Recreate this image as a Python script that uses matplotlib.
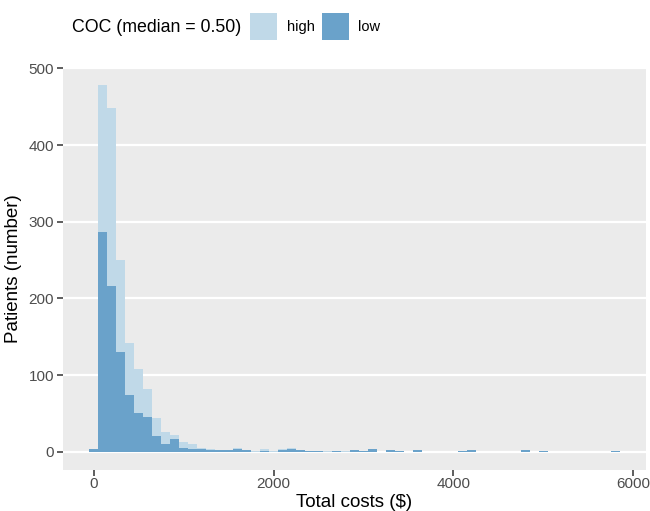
import matplotlib
matplotlib.use("Agg")
import matplotlib.pyplot as plt
from matplotlib.patches import Rectangle
import numpy as np

plt.rcParams['font.family'] = ['Liberation Sans', 'DejaVu Sans']

bin_centers = list(range(0, 5900, 100))
high_counts = [3, 478, 448, 250, 142, 108, 82, 44, 26, 22, 13, 10, 5, 3, 2, 2, 5, 2, 1, 3,
               1, 3, 5, 2, 1, 1, 1, 1, 1, 1, 1, 1, 0, 0, 0, 0, 0, 0, 0, 0,
               0, 0, 0, 0, 0, 0, 0, 0, 0, 0, 0, 0, 0, 0, 0, 0, 0, 0, 0]
low_counts = [4, 287, 216, 130, 74, 50, 45, 21, 10, 16, 5, 3, 3, 2, 2, 2, 3, 2, 0, 1,
              0, 2, 3, 2, 1, 1, 0, 1, 0, 2, 1, 3, 0, 2, 1, 0, 2, 0, 0, 0,
              0, 1, 2, 0, 0, 0, 0, 0, 2, 0, 1, 0, 0, 0, 0, 0, 0, 0, 1]
group_labels = ["high", "low"]
legend_title = "COC (median = 0.50)"
x_ticks = [0, 2000, 4000, 6000]
y_ticks = [0, 100, 200, 300, 400, 500]

col_high = '#c0d9e8'
col_low = '#6aa2ca'

W, H = 650, 511
fig = plt.figure(figsize=(W / 100, H / 100), dpi=100)
ax = fig.add_axes([63 / W, 1 - 470 / H, (646 - 63) / W, (470 - 67) / H])
ax.set_facecolor('#ebebeb')

binw = 100
ax.bar(bin_centers, high_counts, width=binw, color=col_high, linewidth=0, zorder=2)
ax.bar(bin_centers, low_counts, width=binw, color=col_low, linewidth=0, zorder=3)

xmin, xmax = bin_centers[0] - binw / 2, bin_centers[-1] + binw / 2
xr = xmax - xmin
ax.set_xlim(xmin - 0.05 * xr, xmax + 0.05 * xr)
ymax = max(max(high_counts), max(low_counts))
ax.set_ylim(-0.05 * ymax, ymax * 1.05)

ax.set_xticks(x_ticks)
ax.set_yticks(y_ticks)
ax.grid(axis='y', color='white', linewidth=1.6, zorder=1)
ax.grid(axis='x', visible=False)
ax.set_axisbelow(True)
for s in ax.spines.values():
    s.set_visible(False)
ax.tick_params(axis='both', colors='#333333', labelcolor='#4d4d4d', labelsize=11,
               length=4, width=1.1)
ax.tick_params(axis='x', pad=1.2)
ax.tick_params(axis='y', pad=2.5)

ax.set_xlabel("Total costs ($)", fontsize=13.5, color='black', labelpad=2)
ax.set_ylabel("Patients (number)", fontsize=13.5, color='black', labelpad=5)

# legend
fig.text(72 / W, 1 - 27 / H, legend_title, fontsize=12.8, va='center', ha='left')
key_x = [250, 322]
label_x = [287, 358]
cols = [col_high, col_low]
for kx, lx, c, lab in zip(key_x, label_x, cols, group_labels):
    fig.add_artist(Rectangle((kx / W, 1 - 40 / H), 27 / W, 27 / H,
                             transform=fig.transFigure, facecolor=c, edgecolor='none'))
    fig.text(lx / W, 1 - 27 / H, lab, fontsize=10.5, va='center', ha='left')

fig.savefig("out.png", dpi=100)
